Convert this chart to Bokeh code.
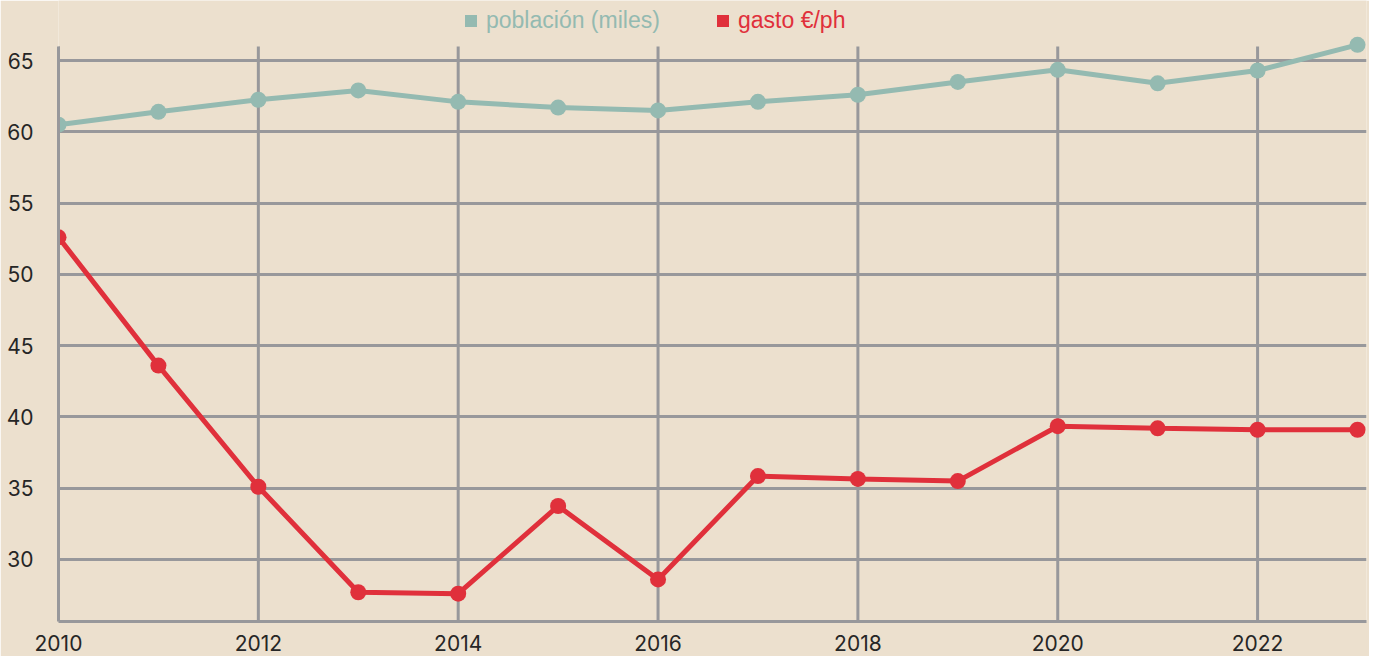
from bokeh.plotting import figure
from bokeh.models import Legend, LegendItem, FixedTicker, Range1d
from bokeh.embed import file_html
from bokeh.resources import INLINE

years = list(range(2010, 2024))
poblacion = [60.5, 61.4, 62.25, 62.9, 62.1, 61.7, 61.5, 62.1, 62.6, 63.5, 64.35, 63.4, 64.3, 66.1]
gasto = [52.6, 43.6, 35.1, 27.7, 27.6, 33.75, 28.6, 35.85, 35.65, 35.5, 39.35, 39.2, 39.1, 39.1]
x_ticks = [2010, 2012, 2014, 2016, 2018, 2020, 2022]
y_ticks = [30, 35, 40, 45, 50, 55, 60, 65]
labels = ["población (miles)", "gasto €/ph"]

BG = "#ECE0CE"
GRID = "#98989B"
TEAL = "#94BAB1"
RED = "#E0303B"
TXT = "#262626"

Y_LO, Y_TOP_GRID, Y_HI = 25.65, 65.98, 69.21

p = figure(width=1369, height=656, output_backend="svg", toolbar_location=None,
           x_range=Range1d(2010, 2023.09), y_range=Range1d(Y_LO, Y_HI),
           min_border_left=58, min_border_right=3, min_border_top=0, min_border_bottom=35)
p.background_fill_color = BG
p.border_fill_color = BG
p.outline_line_color = None

p.xaxis.ticker = FixedTicker(ticks=x_ticks)
p.yaxis.ticker = FixedTicker(ticks=y_ticks)
p.yaxis.bounds = (Y_LO, Y_TOP_GRID)
for ax in (p.xaxis[0], p.yaxis[0]):
    ax.axis_line_color = GRID
    ax.axis_line_width = 3
    ax.major_tick_line_color = None
    ax.minor_tick_line_color = None
    ax.major_label_text_font = "Inter"
    ax.major_label_text_font_size = "21px"
    ax.major_label_text_color = TXT
p.xaxis.major_label_standoff = 7
p.yaxis.major_label_standoff = 19

p.xgrid.visible = False
p.ygrid.grid_line_color = GRID
p.ygrid.grid_line_width = 3
# vertical grid lines, stopping at the top of the plotting area
p.segment(x0=x_ticks[1:], y0=[Y_LO] * (len(x_ticks) - 1), x1=x_ticks[1:],
          y1=[Y_TOP_GRID] * (len(x_ticks) - 1), line_color=GRID, line_width=3)
p.segment(x0=[2010], y0=[Y_LO], x1=[2010], y1=[Y_TOP_GRID], line_color=GRID, line_width=3)

p.line(years, poblacion, line_color=TEAL, line_width=5)
p.scatter(years, poblacion, size=16, fill_color=TEAL, line_color=None)
p.line(years, gasto, line_color=RED, line_width=5)
p.scatter(years, gasto, size=16, fill_color=RED, line_color=None)

nan = float("nan")
sq1 = p.quad(left=[nan], right=[nan], bottom=[nan], top=[nan], fill_color=TEAL, line_color=None)
sq2 = p.quad(left=[nan], right=[nan], bottom=[nan], top=[nan], fill_color=RED, line_color=None)

def mk_legend(label, r, color, loc):
    lg = Legend(items=[LegendItem(label=label, renderers=[r])], location=loc,
                orientation="horizontal", padding=0, margin=0, spacing=0,
                glyph_width=15, glyph_height=15, label_standoff=8,
                label_text_font="Liberation Sans", label_text_font_size="23px",
                label_text_color=color, border_line_color=None,
                background_fill_alpha=0)
    p.add_layout(lg)

mk_legend(labels[0], sq1, TEAL, (405, 587))
mk_legend(labels[1], sq2, RED, (657, 587))

open("out.html", "w").write(file_html(p, INLINE))
